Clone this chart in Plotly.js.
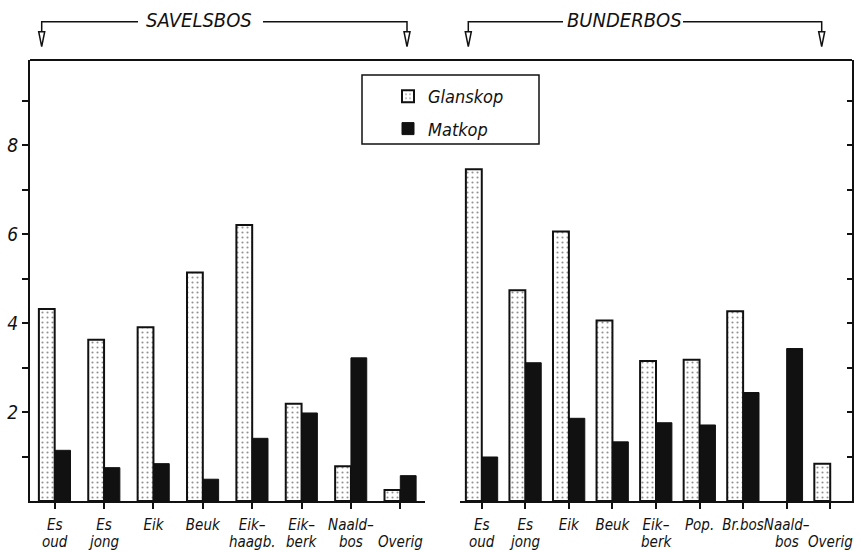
<!DOCTYPE html>
<html>
<head>
<meta charset="utf-8">
<script src="https://cdn.plot.ly/plotly-3.0.1.min.js"></script>
<style>html,body{margin:0;padding:0;background:#fff;}#chart{width:863px;height:553px;}</style>
</head>
<body>
<div id="chart"></div>
<script>
// ---- data ----
const savelsCats = ["Es oud", "Es jong", "Eik", "Beuk", "Eik-haagb.", "Eik-berk", "Naald-bos", "Overig"];
const savelsLine1 = ["Es", "Es", "Eik", "Beuk", "Eik–", "Eik–", "Naald–", ""];
const savelsLine2 = ["oud", "jong", "", "", "haagb.", "berk", "bos", "Overig"];
const savelsGlanskop = [4.32, 3.63, 3.91, 5.14, 6.21, 2.19, 0.78, 0.25];
const savelsMatkop = [1.14, 0.75, 0.84, 0.49, 1.41, 1.98, 3.22, 0.57];

const bunderCats = ["Es oud", "Es jong", "Eik", "Beuk", "Eik-berk", "Pop.", "Br.bos", "Naald-bos", "Overig"];
const bunderLine1 = ["Es", "Es", "Eik", "Beuk", "Eik–", "Pop.", "Br.bos", "Naald–", ""];
const bunderLine2 = ["oud", "jong", "", "", "berk", "", "", "bos", "Overig"];
const bunderGlanskop = [7.46, 4.74, 6.06, 4.06, 3.15, 3.18, 4.27, null, 0.84];
const bunderMatkop = [0.99, 3.11, 1.86, 1.33, 1.76, 1.71, 2.44, 3.43, null];

const yTickVals = [1, 2, 3, 4, 5, 6, 7, 8, 9];
const yTickText = ["", "2", "", "4", "", "6", "", "8", ""];

// ---- style ----
const FONT = "DejaVu Sans Condensed, Liberation Sans Narrow, Liberation Sans, Arial, sans-serif";
const INK = "#111";
const W = 822, H = 441, L = 30, T = 60;
function px(x) { return (x - L) / W; }
function py(y) { return (T + H - y) / H; }

const dotPattern = { shape: ".", size: 5, solidity: 0.14, fgcolor: "#222", bgcolor: "#fff", fillmode: "overlay" };
const wL = 0.32, wR = 0.365;

const traces = [
  { type: "bar", name: "Glanskop", x: savelsCats, y: savelsGlanskop, xaxis: "x", yaxis: "y",
    width: wL, offset: -wL, legendgroup: "g",
    marker: { color: "#fff", pattern: dotPattern, line: { color: INK, width: 2 } } },
  { type: "bar", name: "Matkop", x: savelsCats, y: savelsMatkop, xaxis: "x", yaxis: "y",
    width: wL, offset: 0, legendgroup: "m",
    marker: { color: INK, line: { color: INK, width: 1 } } },
  { type: "bar", name: "Glanskop", x: bunderCats, y: bunderGlanskop, xaxis: "x2", yaxis: "y2",
    width: wR, offset: -wR, showlegend: false, legendgroup: "g",
    marker: { color: "#fff", pattern: dotPattern, line: { color: INK, width: 2 } } },
  { type: "bar", name: "Matkop", x: bunderCats, y: bunderMatkop, xaxis: "x2", yaxis: "y2",
    width: wR, offset: 0, showlegend: false, legendgroup: "m",
    marker: { color: INK, line: { color: INK, width: 1 } } }
];

const tickFont = { family: FONT, size: 15, style: "italic", color: INK };
const yRange = [0, 9.92];

function mainX(domain, cats, line1) {
  return { domain: domain, type: "category", range: [-0.5, cats.length - 0.5],
    tickmode: "array", tickvals: cats, ticktext: line1, tickangle: 0,
    showline: true, linecolor: INK, linewidth: 2, ticks: "outside", ticklen: 6, tickwidth: 2, tickcolor: INK,
    tickfont: tickFont, showgrid: false, zeroline: false, fixedrange: true, ticklabelstandoff: 3 };
}

const bracket = (xl, xr, gl, gr) => ({
  type: "path", xref: "paper", yref: "paper", layer: "above",
  path: `M${px(xl)},${py(31.7)} V${py(21.7)} H${px(gl)} M${px(gr)},${py(21.7)} H${px(xr)} V${py(31.7)}`,
  line: { color: INK, width: 1.5 }
});
const arrow = (x) => ({
  type: "path", xref: "paper", yref: "paper", layer: "above",
  path: `M${px(x - 3)},${py(31.7)} L${px(x + 3)},${py(31.7)} L${px(x)},${py(46.7)} Z`,
  fillcolor: "#fff", line: { color: INK, width: 1.5 }
});

// second line of the category labels, placed on the category axis positions
const line2Ann = [];
savelsCats.forEach((c, i) => { if (savelsLine2[i]) line2Ann.push({ xref: "x", yref: "paper", x: c, y: py(542),
  text: savelsLine2[i], showarrow: false, xanchor: "center", yanchor: "middle", font: tickFont }); });
bunderCats.forEach((c, i) => { if (bunderLine2[i]) line2Ann.push({ xref: "x2", yref: "paper", x: c, y: py(542),
  text: bunderLine2[i], showarrow: false, xanchor: "center", yanchor: "middle", font: tickFont }); });

const layout = {
  width: 863, height: 553,
  margin: { l: L, r: 863 - L - W, t: T, b: 553 - T - H, pad: 0 },
  paper_bgcolor: "#fff", plot_bgcolor: "#fff",
  barmode: "overlay",
  showlegend: true,
  legend: { x: px(388), y: py(78), xanchor: "left", yanchor: "top", bgcolor: "rgba(0,0,0,0)",
    borderwidth: 0, font: { family: FONT, size: 18, style: "italic", color: INK }, tracegroupgap: 6,
    itemwidth: 30 },
  xaxis: mainX([0, px(425)], savelsCats, savelsLine1),
  xaxis2: Object.assign(mainX([px(460), 1], bunderCats, bunderLine1), { anchor: "y2" }),
  yaxis: { domain: [0, 1], range: yRange, anchor: "x", side: "left", tickmode: "array",
    tickvals: yTickVals, ticktext: yTickText, showline: true, linecolor: INK, linewidth: 2,
    ticks: "outside", ticklen: 6, tickwidth: 2, tickcolor: INK, tickfont: { family: FONT, size: 19, style: "italic", color: INK },
    showgrid: false, zeroline: false, ticklabelstandoff: 0 },
  yaxis2: { domain: [0, 1], range: yRange, anchor: "x2", side: "right", tickmode: "array",
    tickvals: yTickVals, showticklabels: false, showline: true, linecolor: INK, linewidth: 2,
    ticks: "inside", ticklen: 5, tickwidth: 2, tickcolor: INK, showgrid: false, zeroline: false },
  shapes: [
    { type: "line", xref: "paper", yref: "paper", x0: 0, x1: 1, y0: 1, y1: 1, line: { color: INK, width: 2 } },
    { type: "rect", xref: "paper", yref: "paper", x0: px(362), x1: px(539), y0: py(144), y1: py(75),
      fillcolor: "#fff", line: { color: INK, width: 1.5 }, layer: "above" },
    bracket(41.7, 407, 138, 263), arrow(41.7), arrow(407),
    bracket(468.3, 821.7, 563, 683), arrow(468.3), arrow(821.7)
  ],
  annotations: [
    { xref: "paper", yref: "paper", x: px(199), y: py(20.5), text: "SAVELSBOS", showarrow: false,
      xanchor: "center", yanchor: "middle", font: { family: FONT, size: 20, style: "italic", color: INK } },
    { xref: "paper", yref: "paper", x: px(624), y: py(20.5), text: "BUNDERBOS", showarrow: false,
      xanchor: "center", yanchor: "middle", font: { family: FONT, size: 20, style: "italic", color: INK } }
  ].concat(line2Ann)
};

Plotly.newPlot("chart", traces, layout, { staticPlot: true, displayModeBar: false });
</script>
</body>
</html>
